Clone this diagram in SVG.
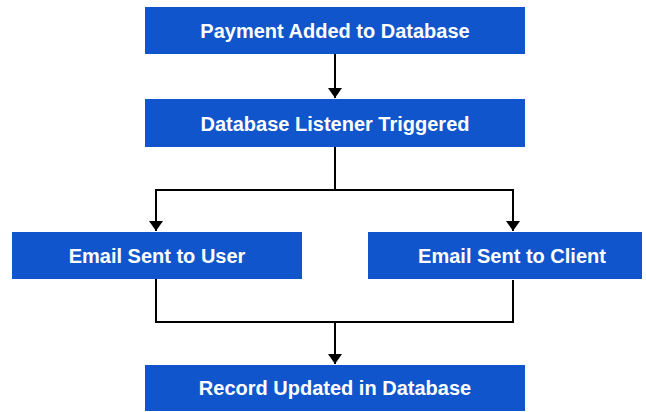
<svg xmlns="http://www.w3.org/2000/svg" width="646" height="412" viewBox="0 0 646 412">
<style>
.box{fill:#1155CC;}
.lbl{fill:#ffffff;font-family:"Liberation Sans",Arial,sans-serif;font-weight:bold;font-size:20px;text-anchor:middle;}
.con{fill:none;stroke:#000000;stroke-width:2;}
</style>
<defs>
<marker id="ah" viewBox="0 0 10 14" refX="10" refY="7" markerWidth="10" markerHeight="14" markerUnits="userSpaceOnUse" orient="auto">
<path d="M0,0 L10,7 L0,14 Z" fill="#000000"/>
</marker>
</defs>
<rect width="646" height="412" fill="#ffffff"/>
<g id="connectors">
<path class="con" d="M335,54 V98" marker-end="url(#ah)"/>
<path class="con" d="M335,147 V190 H156 V231" marker-end="url(#ah)"/>
<path class="con" d="M335,190 H513 V231" marker-end="url(#ah)"/>
<path class="con" d="M156,279 V322 H513 V280"/>
<path class="con" d="M335,322 V364" marker-end="url(#ah)"/>
</g>
<g id="payment">
<rect class="box" x="145" y="7" width="380" height="47"/>
<text class="lbl" x="335" y="38">Payment Added to Database</text>
</g>
<g id="listener">
<rect class="box" x="145" y="99" width="380" height="48"/>
<text class="lbl" x="335" y="131">Database Listener Triggered</text>
</g>
<g id="emailUser">
<rect class="box" x="12" y="232" width="290" height="47"/>
<text class="lbl" x="157" y="263">Email Sent to User</text>
</g>
<g id="emailClient">
<rect class="box" x="368" y="232" width="274" height="47"/>
<text class="lbl" x="512" y="263">Email Sent to Client</text>
</g>
<g id="record">
<rect class="box" x="145" y="365" width="380" height="46"/>
<text class="lbl" x="335" y="395">Record Updated in Database</text>
</g>
</svg>
